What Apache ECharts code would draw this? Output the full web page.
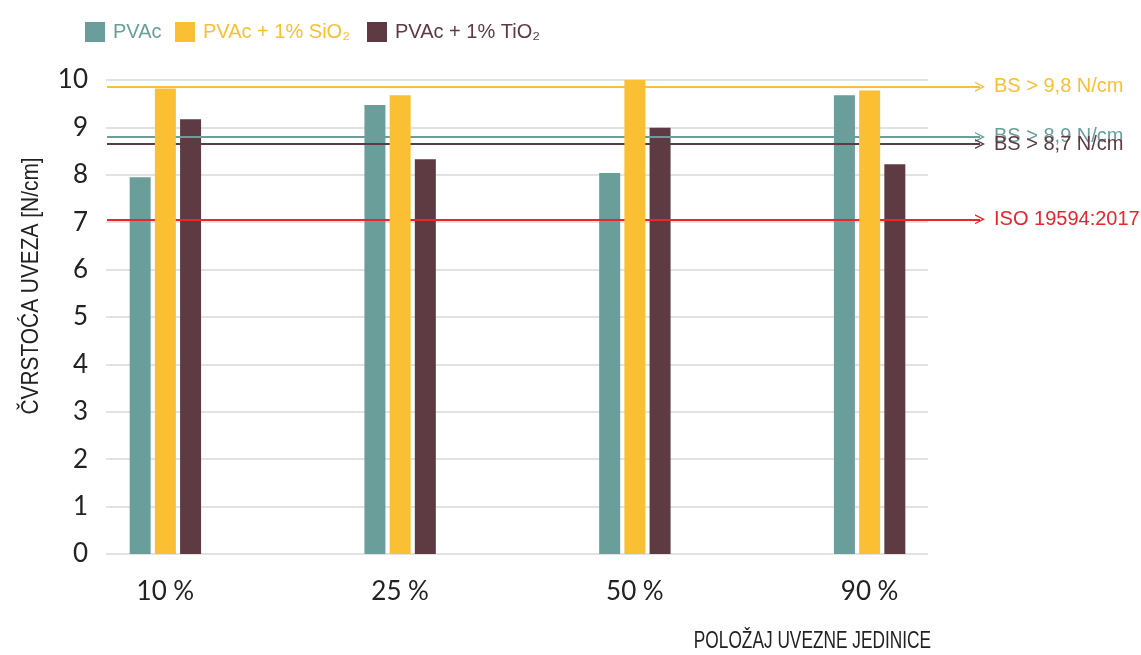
<!DOCTYPE html>
<html>
<head>
<meta charset="utf-8">
<script src="https://cdn.jsdelivr.net/npm/echarts@6/dist/echarts.min.js"></script>
<style>
html,body{margin:0;padding:0;background:#fff;}
#chart{width:1141px;height:655px;}
</style>
</head>
<body>
<div id="chart"></div>
<script>
// ---- data ----
const categories = ['10 %', '25 %', '50 %', '90 %'];
const seriesNames = ['PVAc', 'PVAc + 1% SiO\u2082', 'PVAc + 1% TiO\u2082'];
const pvac = [7.95, 9.47, 8.04, 9.68];
const pvacSiO2 = [9.82, 9.68, 10.0, 9.78];
const pvacTiO2 = [9.17, 8.33, 8.99, 8.22];
const refValues = [9.86, 8.8, 8.65, 7.06];
const refLabels = ['BS > 9,8 N/cm', 'BS > 8,9 N/cm', 'BS > 8,7 N/cm', 'ISO 19594:2017'];
const yTicks = [0, 1, 2, 3, 4, 5, 6, 7, 8, 9, 10];
const yTitle = '\u010CVRSTO\u0106A UVEZA [N/cm]';
const xTitle = 'POLO\u017DAJ UVEZNE JEDINICE';

// ---- styles ----
const colors = ['#6a9e9b', '#fbbf34', '#5e3a42'];
const refColors = ['#fbbf34', '#6a9e9b', '#5e3a42', '#e8262b'];
const narrow = "'Liberation Sans', Arial, sans-serif";
const geo = "Lato, 'DejaVu Sans', sans-serif";

const chart = echarts.init(document.getElementById('chart'));
const barData = [pvac, pvacSiO2, pvacTiO2];

const legendLefts = [80, 170, 362];
const legends = seriesNames.map((n, i) => ({
  left: legendLefts[i], top: 17, itemWidth: 20, itemHeight: 20, itemGap: 10,
  icon: 'rect',
  data: [{ name: n, textStyle: { color: colors[i] } }],
  textStyle: { fontFamily: narrow, fontSize: 20, padding: [0, 0, 0, 3] }
}));

const barSeries = seriesNames.map((n, i) => ({
  name: n, type: 'bar', xAxisIndex: 0, yAxisIndex: 0,
  data: barData[i], barWidth: 21, barGap: '20%',
  itemStyle: { color: colors[i] },
  z: i === 1 ? 5 : 3
}));

const lineSeries = refValues.map((v, i) => ({
  type: 'line', xAxisIndex: 2, yAxisIndex: 2, data: [],
  z: 4,
  markLine: {
    silent: true,
    symbol: ['none', 'path://M0,10 L5,0 L10,10 L8.6,10 L5,3 L1.4,10 Z'],
    symbolSize: [10, 10],
    lineStyle: { color: refColors[i], width: 2, type: 'solid' },
    label: {
      show: true, position: 'end', distance: 14,
      formatter: refLabels[i], color: refColors[i],
      fontFamily: narrow, fontSize: 20
    },
    data: [{ yAxis: v }]
  }
}));

chart.setOption({
  animation: false,
  legend: legends,
  grid: [
    { left: 48, right: 154, top: 80, bottom: 101 },
    { left: 106, right: 213, top: 80, bottom: 101 },
    { left: 107, right: 161, top: 80, bottom: 101 }
  ],
  xAxis: [
    { type: 'category', gridIndex: 0, data: categories,
      axisLine: { show: false }, axisTick: { show: false },
      axisLabel: { fontFamily: geo, fontSize: 26, color: '#222', margin: 25 } },
    { type: 'value', gridIndex: 1, show: false, min: 0, max: 1 },
    { type: 'value', gridIndex: 2, show: false, min: 0, max: 1 }
  ],
  yAxis: [
    { type: 'value', gridIndex: 0, min: 0, max: 10, show: false },
    { type: 'value', gridIndex: 1, min: 0, max: 10, interval: 1,
      axisLine: { show: false }, axisTick: { show: false },
      axisLabel: { fontFamily: geo, fontSize: 26, color: '#222', margin: 18,
        formatter: v => yTicks.includes(v) ? String(v) : '' },
      splitLine: { lineStyle: { color: '#e2e2e2', width: 2 } } },
    { type: 'value', gridIndex: 2, min: 0, max: 10, show: false }
  ],
  graphic: [
    { type: 'text', x: 31, y: 286, rotation: Math.PI / 2, scaleX: 0.87, scaleY: 1,
      style: { text: yTitle, fontFamily: narrow, fontSize: 24, fill: '#222',
        textAlign: 'center', textVerticalAlign: 'middle' } },
    { type: 'text', x: 931, y: 641, scaleX: 0.72, scaleY: 1,
      style: { text: xTitle, fontFamily: narrow, fontSize: 24, fill: '#222',
        textAlign: 'right', textVerticalAlign: 'middle' } }
  ],
  series: [...barSeries, ...lineSeries]
});
</script>
</body>
</html>
